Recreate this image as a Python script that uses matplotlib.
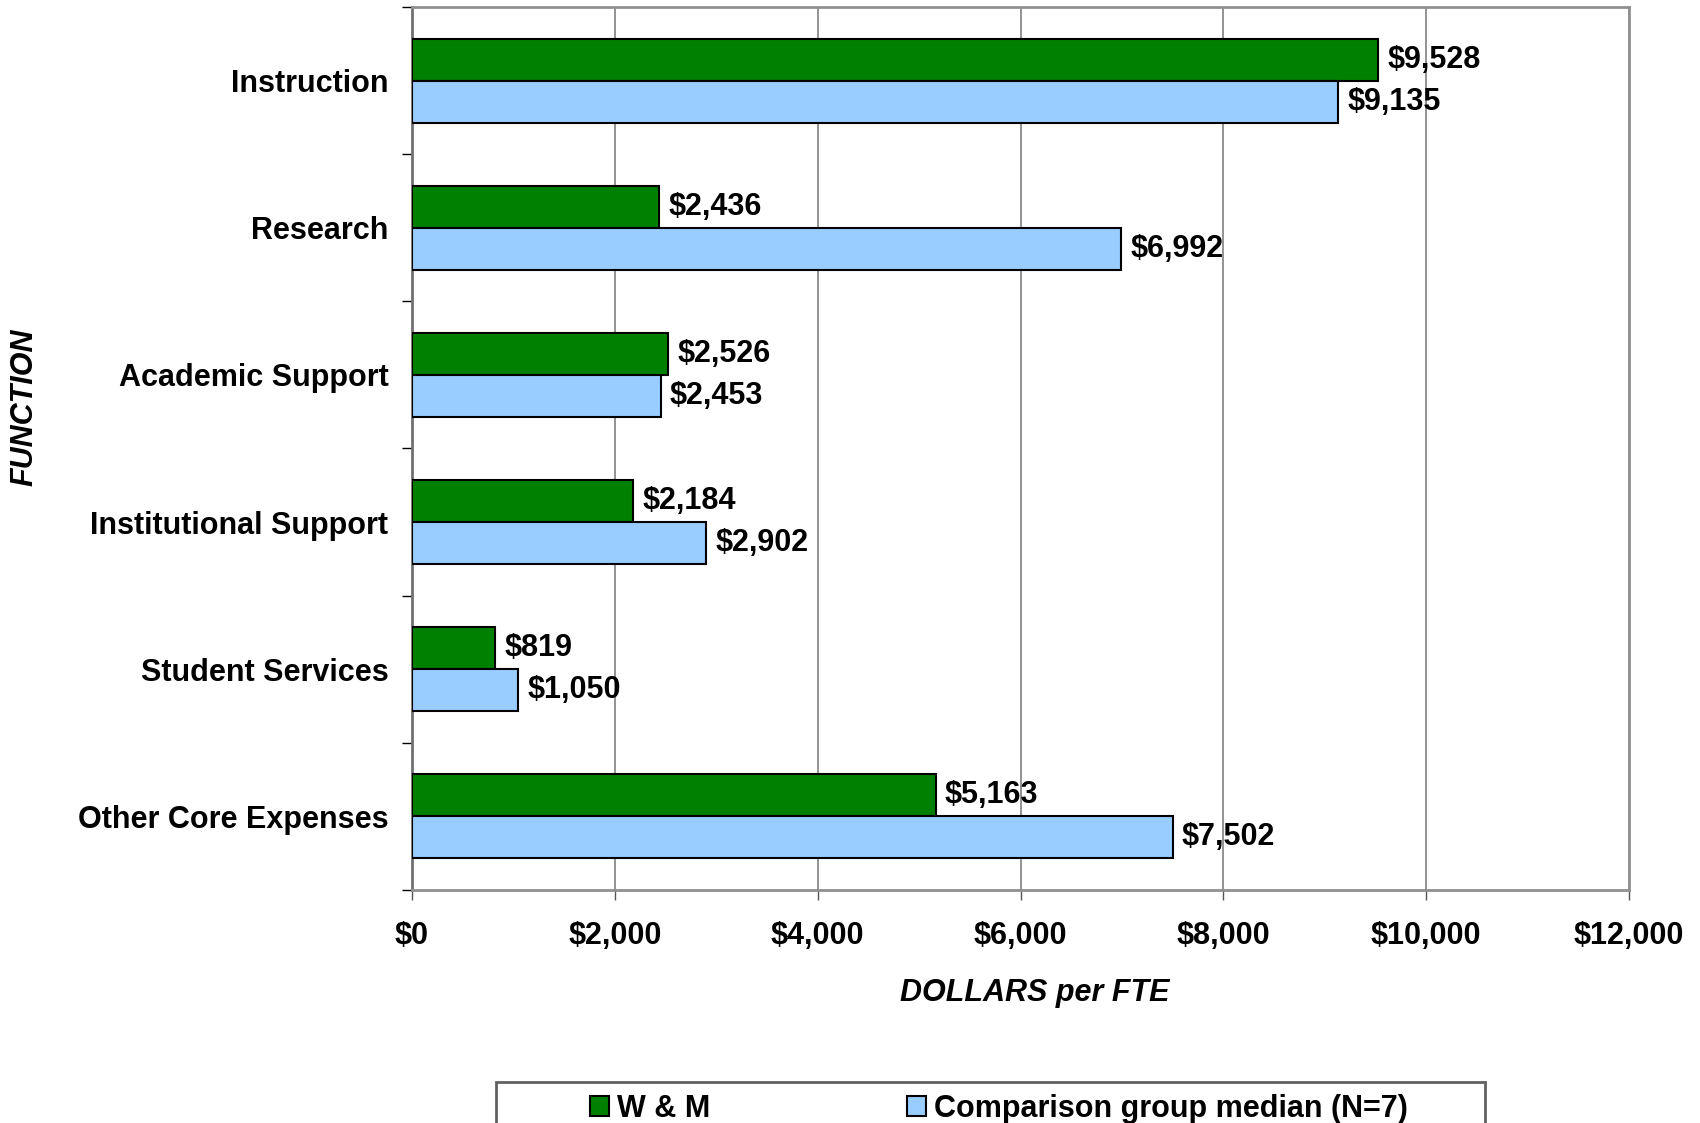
import numpy as np
import matplotlib
matplotlib.use("Agg")
from matplotlib import pyplot as plt
from matplotlib.patches import Rectangle
from matplotlib.ticker import FuncFormatter, FixedLocator

plt.rcParams['font.family'] = ['Liberation Sans', 'DejaVu Sans']
plt.rcParams['font.weight'] = 'bold'

categories = ["Instruction", "Research", "Academic Support",
              "Institutional Support", "Student Services", "Other Core Expenses"]
wm_values = [9528, 2436, 2526, 2184, 819, 5163]
comp_values = [9135, 6992, 2453, 2902, 1050, 7502]
series_names = ["W & M", "Comparison group median (N=7)"]
x_ticks = [0, 2000, 4000, 6000, 8000, 10000, 12000]

FS = 22
W, H = 1700, 1123

fig = plt.figure(figsize=(17, 11.23), dpi=100)
ax = fig.add_axes([412 / W, 1 - 890 / H, (1629 - 412) / W, (890 - 7) / H])

y = np.arange(len(categories))
h = 0.285
b1 = ax.barh(y - h / 2, wm_values, height=h, color="#008000", edgecolor="black",
             linewidth=1.5, label=series_names[0], zorder=3)
b2 = ax.barh(y + h / 2, comp_values, height=h, color="#99CCFF", edgecolor="black",
             linewidth=1.5, label=series_names[1], zorder=3)

for bars, vals in ((b1, wm_values), (b2, comp_values)):
    for bar, v in zip(bars, vals):
        ax.text(bar.get_width() + 90, bar.get_y() + bar.get_height() / 2,
                f"${v:,}", va="center", ha="left", fontsize=FS, fontweight="bold", zorder=4)

ax.set_ylim(len(categories) - 0.5, -0.5)
ax.set_xlim(0, 12000)
ax.set_yticks(y)
ax.set_yticklabels(categories, fontsize=FS, fontweight="bold")
ax.yaxis.set_minor_locator(FixedLocator(np.arange(-0.5, len(categories), 1)))
ax.tick_params(axis="y", which="major", length=0, pad=17)
ax.tick_params(axis="y", which="minor", length=7, width=1, color="black")

ax.set_xticks(x_ticks)
ax.xaxis.set_major_formatter(FuncFormatter(lambda v, p: f"${int(v):,}"))
ax.tick_params(axis="x", length=7, width=1, color="#555555", pad=15, labelsize=FS)
for lbl in ax.get_xticklabels():
    lbl.set_fontweight("bold")

ax.grid(axis="x", color="#808080", linewidth=1.2, zorder=0)
for s in ("top", "right", "bottom"):
    ax.spines[s].set_color("#909090")
    ax.spines[s].set_linewidth(2)
ax.spines["left"].set_color("#707070")
ax.spines["left"].set_linewidth(2)

fig.text(1035 / W, 1 - 993 / H, "DOLLARS per FTE", fontsize=FS, fontweight="bold",
         style="italic", ha="center", va="center")
fig.text(24 / W, 1 - 407 / H, "FUNCTION", rotation=90, fontsize=FS, fontweight="bold",
         style="italic", ha="center", va="center")

# legend frame, runs off the bottom edge like the reference
fig.patches.append(Rectangle((496 / W, -0.05), (1485 - 496) / W, 0.05 + 1 - 1082 / H,
                             transform=fig.transFigure, facecolor="white",
                             edgecolor="#606060", linewidth=2, zorder=5))
leg = fig.legend(handles=[b1, b2], loc="center left", bbox_to_anchor=(590 / W, 1 - 1109 / H),
                 ncol=2, frameon=False, fontsize=FS, borderpad=0, borderaxespad=0,
                 handlelength=0.62, handleheight=0.62, handletextpad=0.25,
                 columnspacing=6.45)
leg.set_zorder(6)
for t in leg.get_texts():
    t.set_fontweight("bold")

fig.savefig("out.png", dpi=100)
